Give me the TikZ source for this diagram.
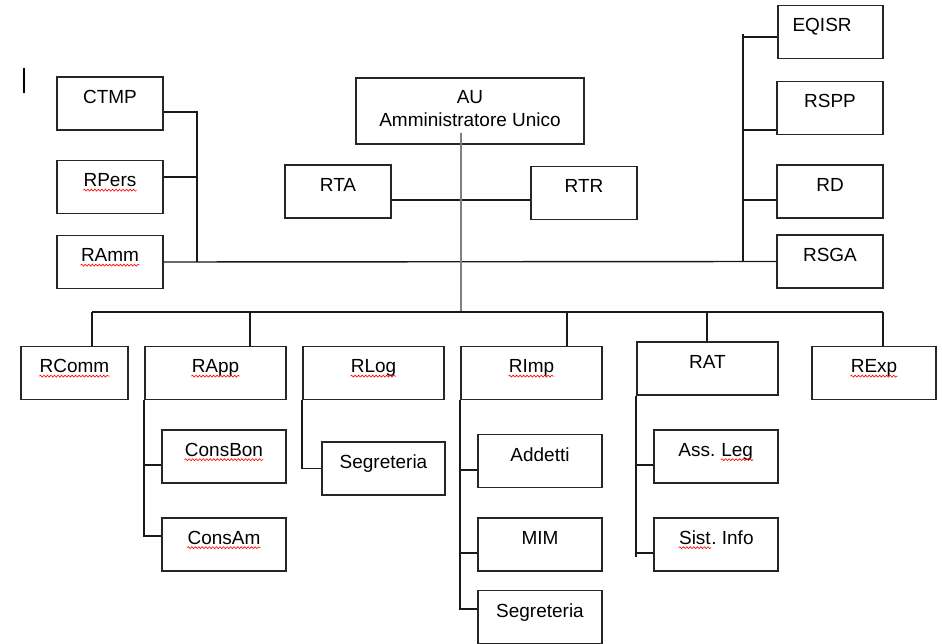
\documentclass[tikz,border=0pt]{standalone}
\usepackage{fontspec}
\setmainfont{Liberation Sans}
\usetikzlibrary{decorations.pathmorphing}
\frenchspacing
\newcommand{\spell}[1]{\tikz[baseline=(w.base),x=1cm,y=1cm]{\node[inner sep=0pt,text height=,text depth=,draw=none,minimum width=0pt,minimum height=0pt] (w) {#1};
  \draw[red,line width=0.35pt,decorate,decoration={snake,amplitude=0.55pt,segment length=2pt}] ([yshift=-1.8pt]w.base west) -- ([yshift=-1.8pt]w.base east);}}

\begin{document}
\begin{tikzpicture}[x=0.02cm,y=-0.02cm,
    box/.style={draw=black!85,line width=1pt,minimum width=2.12cm,minimum height=1.06cm,
      inner sep=0pt,text height=0pt,text depth=0pt,font=\fontsize{10.8}{13}\selectfont},
    wide/.style={box,minimum width=2.82cm},
    sub/.style={box,minimum width=2.48cm},
    link/.style={line width=0.8pt,black!90}]
    \useasboundingbox (0,0) rectangle (942,644);
    \draw[line width=1.3pt] (24,68) -- (24,93);

    % top part
    \node[box,minimum width=4.56cm,minimum height=1.32cm,align=center,text height=17.6pt] (au) at (470,111) {AU\\Amministratore Unico};
    \node[box] (ctmp) at (110,103.5) {CTMP};
    \node[box] (rpers) at (110,187) {\spell{RPers}};
    \node[box] (ramm) at (110,262) {\spell{RAmm}};
    \node[box] (rta) at (338,191.5) {RTA};
    \node[box] (rtr) at (584,193) {RTR};
    \node[box,minimum width=2.1cm] (eqisr) at (830.5,32) {\hspace*{-9.6pt}EQISR};
    \node[box] (rspp) at (830,108) {RSPP};
    \node[box] (rd) at (830,191.5) {RD};
    \node[box] (rsga) at (830,261.5) {RSGA};

    % bottom row
    \node[box,minimum width=2.14cm] (rcomm) at (74.5,373) {\spell{RComm}};
    \node[wide] (rapp) at (215.5,373) {\spell{RApp}};
    \node[wide] (rlog) at (373.5,373) {\spell{RLog}};
    \node[wide] (rimp) at (531.5,373) {\spell{RImp}};
    \node[wide] (rat) at (707.5,368.5) {RAT};
    \node[sub] (rexp) at (874,373) {\spell{RExp}};

    \node[sub] (consbon) at (224,456.5) {\spell{ConsBon}};
    \node[sub] (consam) at (224,544.5) {\spell{ConsAm}};
    \node[sub,minimum width=2.46cm] (seg1) at (383.5,468.5) {Segreteria};
    \node[sub] (addetti) at (540,461) {Addetti};
    \node[sub] (mim) at (540,544.5) {MIM};
    \node[sub] (seg2) at (540,617) {Segreteria};
    \node[sub] (assleg) at (716,456.5) {Ass. \spell{Leg}};
    \node[sub] (sist) at (716,544.5) {\spell{Sist}. Info};

    \coordinate (jl) at (197,262);
    \coordinate (jr) at (743,262);
    \coordinate (top) at (461,312);
    \coordinate (b1) at (92,312);
    \coordinate (b2) at (250,312);
    \coordinate (b3) at (567,312);
    \coordinate (b4) at (707,312);
    \coordinate (b5) at (883,312);

    \draw[link] ([yshift=-.17cm]ctmp.east) -| (jl);
    \draw[link] ([yshift=.2cm]rpers.east) -- ([yshift=.2cm]rpers.east -| jl);
    \draw[link] (ramm.east) -- (rsga.west);
    \draw[link] (jr) -- ([yshift=-.04cm]jr |- eqisr.west);
    \draw[link] ([yshift=-.1cm]eqisr.west) -- ([yshift=-.1cm]eqisr.west -| jr);
    \draw[link] ([yshift=-.44cm]rspp.west) -- ([yshift=-.44cm]rspp.west -| jr);
    \draw[link] ([yshift=-.17cm]rd.west) -- ([yshift=-.17cm]rd.west -| jr);
    \draw[link] ([yshift=-.17cm]rta.east) -- ([yshift=-.17cm]rta.east -| rtr.west);
    \draw[line width=1.1pt,gray] ([shift={(-.18cm,-.44cm)}]au.center) -- (top);

    \draw[link] (b1) -- (b5);
    \draw[link] (b1) -- (b1 |- rcomm.north);
    \draw[link] (b2) -- (b2 |- rapp.north);
    \draw[link] (b3) -- (b3 |- rimp.north);
    \draw[link] (b4) -- (b4 |- rat.north);
    \draw[link] (b5) -- (b5 |- rexp.north);

    \draw[link] (rapp.south west) |- ([yshift=.17cm]consam.west);
    \draw[link] ([yshift=-.17cm]consbon.west) -- ([yshift=-.17cm]consbon.west -| rapp.west);
    \draw[link] (rlog.south west) |- (seg1.west);
    \draw[link] (rimp.south west) |- ([yshift=.16cm]seg2.west);
    \draw[link] ([yshift=-.18cm]addetti.west) -- ([yshift=-.18cm]addetti.west -| rimp.west);
    \draw[link] ([yshift=-.17cm]mim.west) -- ([yshift=-.17cm]mim.west -| rimp.west);
    \draw[link] (rat.south west) -- ([yshift=-.25cm]rat.west |- sist.west);
    \draw[link] ([yshift=-.17cm]assleg.west) -- ([yshift=-.17cm]assleg.west -| rat.west);
    \draw[link] ([yshift=-.17cm]sist.west) -- ([yshift=-.17cm]sist.west -| rat.west);
\end{tikzpicture}
\end{document}
